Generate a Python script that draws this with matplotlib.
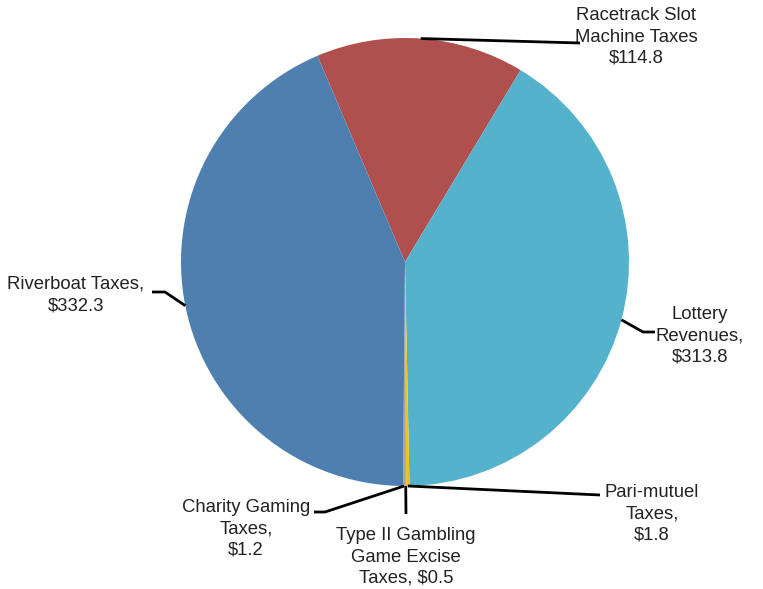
import numpy as np
import matplotlib
matplotlib.use("Agg")
import matplotlib.pyplot as plt

# Gaming revenues (millions of dollars), clockwise from the top
categories = [
    "Racetrack Slot\nMachine Taxes",
    "Lottery\nRevenues,",
    "Pari-mutuel\nTaxes,",
    "Type II Gambling\nGame Excise\nTaxes,",
    "Charity Gaming\nTaxes,",
    "Riverboat Taxes,",
]
values = [114.8, 313.8, 1.8, 0.5, 1.2, 332.3]
# separator between category name and value in each label
value_sep = ["\n", "\n", "\n", " ", "\n", "\n"]
colors = ["#B0504E", "#55B2CC", "#F2C21B", "#E3923A", "#A5A5A5", "#4E7FAF"]

plt.rcParams["font.family"] = ["Liberation Sans", "DejaVu Sans"]

W, H = 763, 589
fig = plt.figure(figsize=(W / 100, H / 100), dpi=100)
ax = fig.add_axes([0, 0, 1, 1])

cx, cy, r = 405, H - 262, 224
wedges, _ = ax.pie(values, colors=colors, startangle=113, counterclock=False,
                   center=(cx, cy), radius=r, frame=True,
                   wedgeprops=dict(linewidth=0))
ax.set_xlim(0, W)
ax.set_ylim(0, H)
ax.set_aspect("equal")
ax.axis("off")


def edge_point(w):
    ang = np.deg2rad((w.theta1 + w.theta2) / 2)
    return cx + r * np.cos(ang), cy + r * np.sin(ang)


# leader-line elbows and text anchor for each label
layout = [
    ([(580, H - 43)], (636, H - 37)),
    ([(643, H - 332), (655, H - 332)], (700, H - 336)),
    ([(600, H - 495)], (652, H - 514)),
    ([(406, H - 514)], (406, H - 557)),
    ([(325, H - 512), (314, H - 512)], (246, H - 529)),
    ([(165, H - 292), (152, H - 292)], (76, H - 295)),
]

for w, cat, val, sep, (pts, (tx, ty)) in zip(wedges, categories, values,
                                              value_sep, layout):
    x0, y0 = edge_point(w)
    xs = [x0] + [p[0] for p in pts]
    ys = [y0] + [p[1] for p in pts]
    ax.plot(xs, ys, color="black", lw=2, solid_capstyle="butt", zorder=5)
    ax.text(tx, ty, f"{cat}{sep}${val:.1f}", ha="center", va="center",
            fontsize=13.3, color="#222222", linespacing=1.32,
            multialignment="center")

fig.savefig("out.png", dpi=100)
